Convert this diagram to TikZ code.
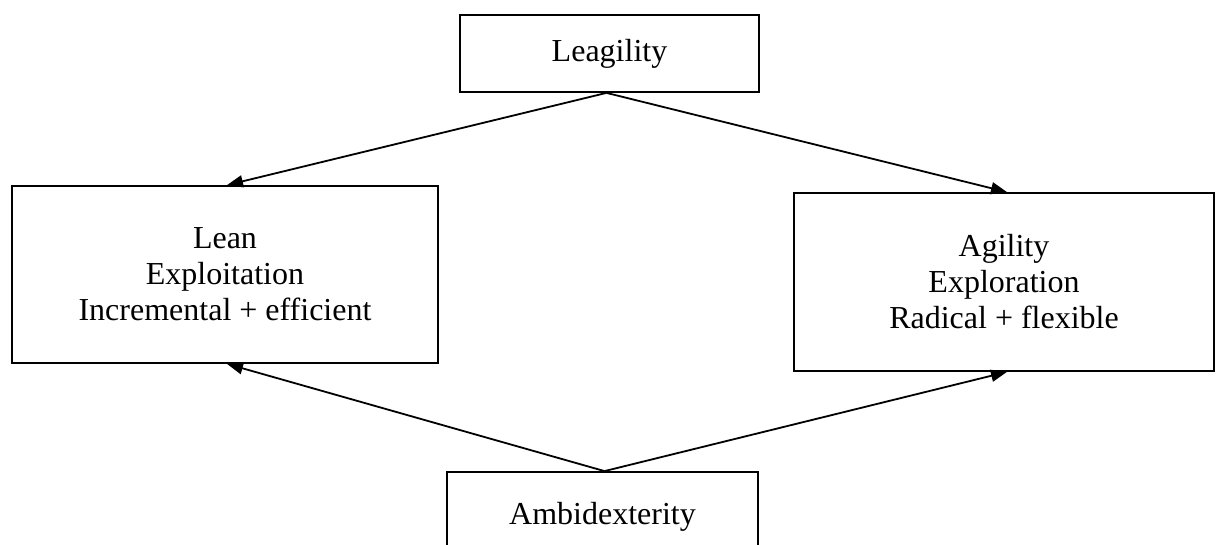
\documentclass[tikz,border=0pt]{standalone}
\usepackage{fontspec}
\setmainfont{Liberation Serif}
\usetikzlibrary{arrows.meta}
\begin{document}
\begin{tikzpicture}[x=1pt,y=-1pt,
  box/.style={draw, line width=1.8pt, rectangle, align=center, inner sep=0pt,
    font=\fontsize{32}{36}\selectfont},
  link/.style={line width=1.8pt, -{Triangle[length=16pt,width=12pt]}}]
  \useasboundingbox (0,0) rectangle (1216,545);
  \clip (0,0) rectangle (1216,545);
  % top and bottom concept boxes
  \node[box, minimum width=299pt, minimum height=77pt] (lea) at (609.5,53.5) {Leagility};
  \node[box, minimum width=311pt, minimum height=90pt] (amb) at (602.5,517) {Ambidexterity};
  % the two paradigms
  \node[box, minimum width=426pt, minimum height=177pt] (lean) at (225,274.5)
    {Lean\\Exploitation\\Incremental + efficient};
  \node[box, minimum width=420pt, minimum height=178pt] (agi) at (1004,282)
    {Agility\\Exploration\\Radical + flexible};
  % connectors
  \coordinate (ls) at ([xshift=-3pt]lea.south);
  \coordinate (an) at ([xshift=2pt]amb.north);
  \draw[link] (ls) -- ([xshift=2pt]lean.north);
  \draw[link] (ls) -- ([xshift=3pt]agi.north);
  \draw[link] (an) -- ([xshift=2pt]lean.south);
  \draw[link] (an) -- ([xshift=3pt]agi.south);
\end{tikzpicture}
\end{document}
